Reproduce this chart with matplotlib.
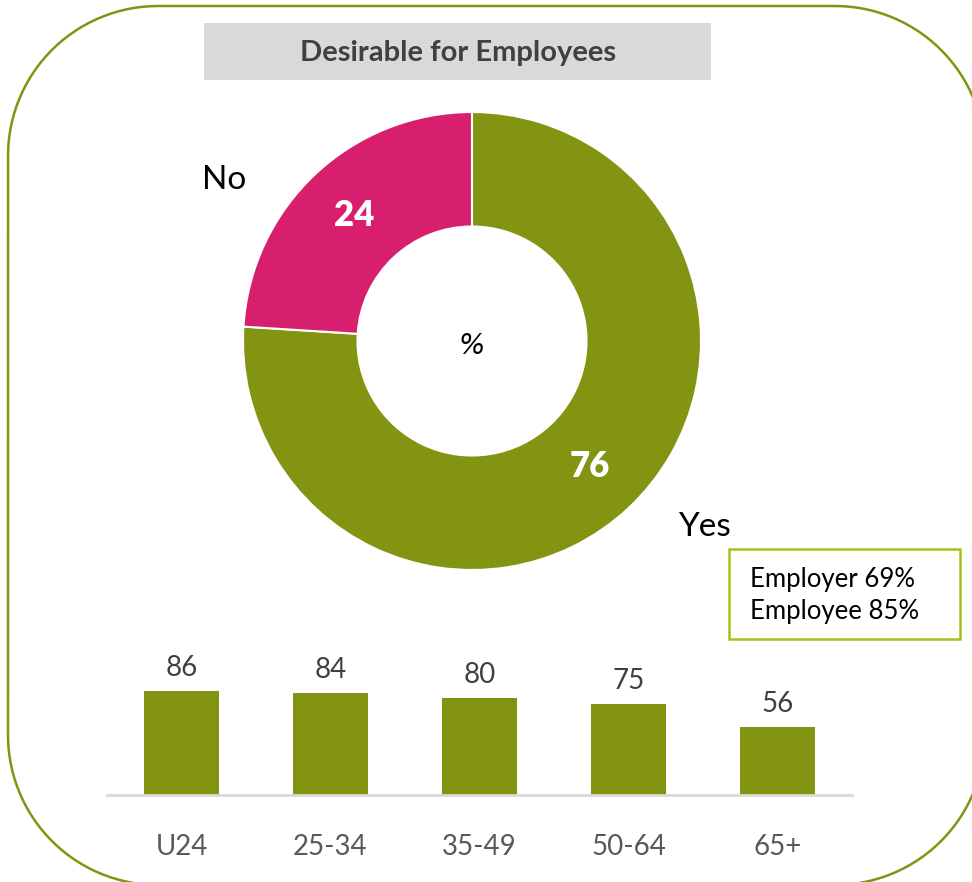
import matplotlib.pyplot as plt
from matplotlib.patches import Rectangle
import numpy as np

plt.rcParams['font.family'] = ['Lato', 'DejaVu Sans']

# donut data
donut_labels = ['Yes', 'No']
donut_values = [76, 24]

# age groups
age_groups = ['U24', '25-34', '35-49', '50-64', '65+']
age_values = [86, 84, 80, 75, 56]

legend_lines = ['Employer 69%', 'Employee 85%']

GREEN = '#839412'
MAGENTA = '#D81F6E'
DARK = '#404040'

W, H = 972, 882
fig = plt.figure(figsize=(W / 100, H / 100), dpi=100)

# background canvas in pixel units, y measured from the top
bg = fig.add_axes([0, 0, 1, 1])
bg.set_xlim(0, W)
bg.set_ylim(H, 0)
bg.axis('off')


def rounded_outline(x0, y0, x1, y1, rad, n=60):
    # corner centres and arc angles (screen coords, y down)
    corners = [((x1 - rad, y0 + rad), -90, 0),
               ((x1 - rad, y1 - rad), 0, 90),
               ((x0 + rad, y1 - rad), 90, 180),
               ((x0 + rad, y0 + rad), 180, 270)]
    xs, ys = [], []
    for (ccx, ccy), a0, a1 in corners:
        t = np.deg2rad(np.linspace(a0, a1, n))
        xs.extend(ccx + rad * np.cos(t))
        ys.extend(ccy + rad * np.sin(t))
    xs.append(xs[0])
    ys.append(ys[0])
    return xs, ys


ox, oy = rounded_outline(8, 6, 985, 885, 150)
bg.plot(ox, oy, color=GREEN, linewidth=1.8, solid_capstyle='round')

bg.add_patch(Rectangle((204, 23), 507, 57, facecolor='#D9D9D9', edgecolor='none'))
bg.text(458, 53, 'Desirable for Employees', ha='center', va='center',
        fontsize=21, fontweight='bold', color=DARK)
bg.add_patch(Rectangle((729, 549), 231, 90, fill=False, edgecolor='#A8C11A', linewidth=1.8))
bg.text(750, 596, '\n'.join(legend_lines), ha='left', va='center',
        fontsize=18.5, color='black', linespacing=1.35)

# donut
cx, cy, r = 472, 341, 229
ax = fig.add_axes([(cx - r) / W, (H - cy - r) / H, 2 * r / W, 2 * r / H])
wedges, _ = ax.pie(donut_values, colors=[GREEN, MAGENTA], startangle=90, counterclock=False,
                   wedgeprops=dict(width=0.5, edgecolor='white', linewidth=1.5))
ax.set_xlim(-1, 1)
ax.set_ylim(-1, 1)
ax.set_aspect('equal')

for w, v in zip(wedges, donut_values):
    ang = np.deg2rad((w.theta1 + w.theta2) / 2)
    ax.text(0.75 * np.cos(ang), 0.75 * np.sin(ang), str(v), ha='center', va='center',
            fontsize=25, fontweight='heavy', color='white')

# outer labels
outer_pos = {'Yes': (-38.7, 1.3), 'No': (147, 1.29)}
for lab in donut_labels:
    a, d = outer_pos[lab]
    a = np.deg2rad(a)
    ax.text(d * np.cos(a), d * np.sin(a), lab, ha='center', va='center',
            fontsize=24, color='black')
ax.text(0, -0.02, '%', ha='center', va='center', fontsize=20, style='italic',
        color='black', family=['DejaVu Sans'])

# bars
bx0, bx1, base = 107, 852, 795
scale = 1.21  # px per unit
ax2 = fig.add_axes([bx0 / W, (H - base) / H, (bx1 - bx0) / W, 100 * scale / H])
x = np.arange(len(age_groups))
bars = ax2.bar(x, age_values, width=0.5, color=GREEN)
ax2.set_xlim(-0.5, len(age_groups) - 0.5)
ax2.set_ylim(0, 100)
for b, v in zip(bars, age_values):
    ax2.annotate(str(v), (b.get_x() + b.get_width() / 2, v), xytext=(0, 23),
                 textcoords='offset pixels', ha='center', va='center', fontsize=20, color=DARK)
ax2.set_xticks(x)
ax2.set_xticklabels(age_groups, fontsize=20, color='#595959')
ax2.tick_params(axis='x', length=0, pad=28)
ax2.set_yticks([])
for s in ['top', 'right', 'left']:
    ax2.spines[s].set_visible(False)
ax2.spines['bottom'].set_color('#D9D9D9')
ax2.spines['bottom'].set_linewidth(2)
ax2.patch.set_alpha(0)

fig.savefig('out.png', dpi=100)
